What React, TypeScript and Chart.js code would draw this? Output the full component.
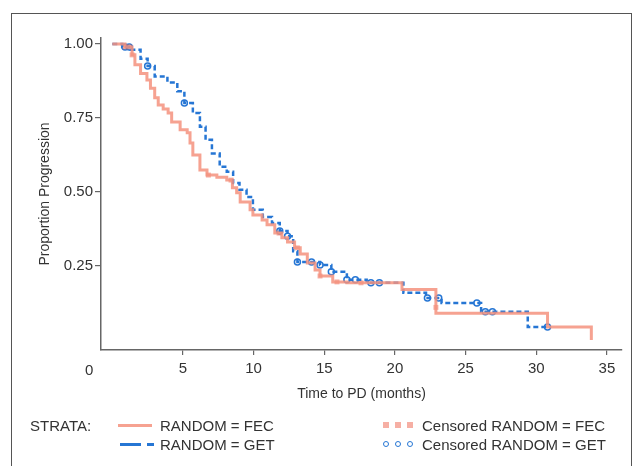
import React, { useEffect, useRef } from "react";
import { Chart, registerables } from "chart.js";

Chart.register(...registerables);

// FEC arm (Kaplan–Meier step points: time in months, proportion without progression)
const fecTime = [0, 0.9, 1.4, 1.6, 2.0, 2.45, 2.7, 3.0, 3.25, 3.6, 3.95, 4.2, 4.8, 5.3, 5.5, 5.7, 6.2, 6.7, 7.4, 8.1, 8.5, 8.8, 9.05, 9.75, 9.95, 10.6, 10.95, 11.5, 12.0, 12.4, 12.9, 13.3, 13.8, 14.35, 14.7, 15.6, 16.6, 20.5, 22.9, 30.8, 33.9];
const fecSurv = [1.0, 0.99, 0.963, 0.93, 0.9, 0.878, 0.85, 0.818, 0.794, 0.78, 0.767, 0.736, 0.71, 0.7, 0.665, 0.625, 0.574, 0.557, 0.55, 0.54, 0.514, 0.497, 0.466, 0.44, 0.422, 0.405, 0.389, 0.361, 0.345, 0.331, 0.311, 0.29, 0.26, 0.236, 0.216, 0.196, 0.193, 0.17, 0.09, 0.044, 0.0];

// GET arm
const getTime = [0, 0.7, 1.3, 2.0, 2.5, 3.0, 3.9, 4.6, 5.1, 5.7, 6.2, 6.6, 7.05, 7.6, 8.1, 8.55, 9.0, 9.5, 9.95, 10.65, 11.3, 11.85, 12.4, 12.8, 13.1, 14.7, 15.5, 16.6, 18.0, 20.6, 22.2, 23.3, 26.1, 29.4, 30.8];
const getSurv = [1.0, 0.99, 0.98, 0.95, 0.925, 0.89, 0.87, 0.84, 0.8, 0.767, 0.72, 0.676, 0.63, 0.585, 0.568, 0.53, 0.507, 0.483, 0.44, 0.415, 0.395, 0.368, 0.35, 0.3, 0.263, 0.253, 0.23, 0.203, 0.193, 0.159, 0.142, 0.125, 0.095, 0.044, 0.044];

// Censored observations
const fecCensTime = [0.9, 1.2, 1.4, 6.8, 8.4, 11.8, 13.1, 14.7, 15.9, 17.6, 22.9];
const fecCensSurv = [0.99, 0.99, 0.963, 0.557, 0.54, 0.361, 0.311, 0.216, 0.196, 0.193, 0.11];
const getCensTime = [0.9, 1.2, 2.5, 5.1, 11.85, 12.4, 13.1, 14.1, 14.7, 15.5, 16.6, 17.2, 18.3, 18.9, 22.3, 23.1, 25.8, 26.4, 26.9, 30.8];
const getCensSurv = [0.99, 0.99, 0.925, 0.8, 0.368, 0.35, 0.263, 0.263, 0.253, 0.23, 0.203, 0.203, 0.193, 0.193, 0.142, 0.142, 0.125, 0.095, 0.095, 0.044];

const xTicks = [5, 10, 15, 20, 25, 30, 35];
const yTicks = [0.25, 0.5, 0.75, 1.0];

const FONT = '"Liberation Sans", Arial, Helvetica, sans-serif';
const RED = "rgba(244,146,126,0.85)";
const RED_MARK = "rgba(238,110,90,0.55)";
const BLUE = "rgb(38,118,212)";
const TEXT = "#333";
const AXIS = "#666";

const pts = (xs: number[], ys: number[]) => xs.map((x, i) => ({ x, y: ys[i] }));

export default function App() {
  const ref = useRef<HTMLCanvasElement | null>(null);

  useEffect(() => {
    if (!ref.current) return;
    const chart = new Chart(ref.current, {
      type: "line",
      data: {
        datasets: [
          {
            label: "RANDOM = FEC",
            data: pts(fecTime, fecSurv),
            stepped: "before",
            borderColor: RED,
            borderWidth: 3,
            pointRadius: 0,
            fill: false,
          },
          {
            label: "RANDOM = GET",
            data: pts(getTime, getSurv),
            stepped: "before",
            borderColor: BLUE,
            borderWidth: 2.5,
            borderDash: [5, 3],
            pointRadius: 0,
            fill: false,
          },
          {
            label: "Censored RANDOM = FEC",
            data: pts(fecCensTime, fecCensSurv),
            showLine: false,
            pointStyle: "rect",
            pointRadius: 3.5,
            backgroundColor: RED_MARK,
            borderColor: RED_MARK,
            borderWidth: 0,
          },
          {
            label: "Censored RANDOM = GET",
            data: pts(getCensTime, getCensSurv),
            showLine: false,
            pointStyle: "circle",
            pointRadius: 3,
            backgroundColor: "rgba(255,255,255,0.6)",
            borderColor: BLUE,
            borderWidth: 1.5,
          },
        ],
      },
      options: {
        animation: false,
        responsive: false,
        maintainAspectRatio: false,
        layout: { padding: { left: 0, top: 38, right: 14, bottom: 56 } },
        plugins: { legend: { display: false }, tooltip: { enabled: false } },
        scales: {
          x: {
            type: "linear",
            min: -0.8,
            max: 36.07,
            afterBuildTicks: (s: any) => {
              s.ticks = xTicks.map((v) => ({ value: v }));
            },
            afterFit: (s: any) => {
              s.height = 60;
            },
            grid: { drawOnChartArea: false, drawTicks: true, tickLength: 5, color: AXIS, lineWidth: 1.2 },
            border: { display: true, color: AXIS, width: 1.5 },
            ticks: { padding: 5, color: TEXT, font: { family: FONT, size: 15 }, maxRotation: 0 },
            title: {
              display: true,
              text: "Time to PD (months)",
              color: TEXT,
              font: { family: FONT, size: 14 },
              padding: { top: 0, bottom: 7 },
            },
          },
          y: {
            type: "linear",
            min: -0.034,
            max: 1.02,
            afterBuildTicks: (s: any) => {
              s.ticks = yTicks.map((v) => ({ value: v }));
            },
            afterFit: (s: any) => {
              s.width = 101;
            },
            grid: { drawOnChartArea: false, drawTicks: true, tickLength: 6, color: AXIS, lineWidth: 1.2 },
            border: { display: true, color: AXIS, width: 1.5 },
            ticks: {
              padding: 2,
              color: TEXT,
              font: { family: FONT, size: 15 },
              callback: (v: any) => Number(v).toFixed(2),
            },
            title: {
              display: true,
              text: "Proportion Progression",
              color: TEXT,
              font: { family: FONT, size: 14 },
              padding: { top: 37, bottom: 0 },
            },
          },
        },
      },
    } as any);
    return () => chart.destroy();
  }, []);

  const txt: React.CSSProperties = {
    position: "absolute",
    fontFamily: FONT,
    fontSize: 15,
    lineHeight: "17px",
    color: TEXT,
    whiteSpace: "nowrap",
  };
  const sq = (left: number, top: number): React.CSSProperties => ({
    position: "absolute",
    left,
    top,
    width: 6,
    height: 6,
    background: RED_MARK,
  });
  const circ = (left: number, top: number): React.CSSProperties => ({
    position: "absolute",
    left,
    top,
    width: 4,
    height: 4,
    border: `1.5px solid ${BLUE}`,
    borderRadius: "50%",
    background: "#fff",
  });

  return (
    <div
      style={{
        position: "fixed",
        left: 0,
        top: 0,
        width: 636,
        height: 466,
        background: "#fff",
        overflow: "hidden",
      }}
    >
      <div
        style={{
          position: "absolute",
          left: 11,
          top: 13,
          width: 619,
          height: 500,
          border: "1px solid #555",
        }}
      />
      <canvas ref={ref} width={636} height={466} style={{ position: "absolute", left: 0, top: 0 }} />
      <span style={{ ...txt, left: 85, top: 361 }}>0</span>

      <span style={{ ...txt, left: 30, top: 417 }}>STRATA:</span>
      <div style={{ position: "absolute", left: 118, top: 424, width: 34, height: 3, background: RED }} />
      <span style={{ ...txt, left: 160, top: 417 }}>RANDOM = FEC</span>
      <div style={{ position: "absolute", left: 120, top: 443, width: 21, height: 2.5, background: BLUE }} />
      <div style={{ position: "absolute", left: 147, top: 443, width: 7, height: 2.5, background: BLUE }} />
      <span style={{ ...txt, left: 160, top: 436 }}>RANDOM = GET</span>

      <div style={sq(383, 422)} />
      <div style={sq(395, 422)} />
      <div style={sq(407, 422)} />
      <span style={{ ...txt, left: 422, top: 417 }}>Censored RANDOM = FEC</span>
      <div style={circ(383, 441)} />
      <div style={circ(395, 441)} />
      <div style={circ(407, 441)} />
      <span style={{ ...txt, left: 422, top: 436 }}>Censored RANDOM = GET</span>
    </div>
  );
}
